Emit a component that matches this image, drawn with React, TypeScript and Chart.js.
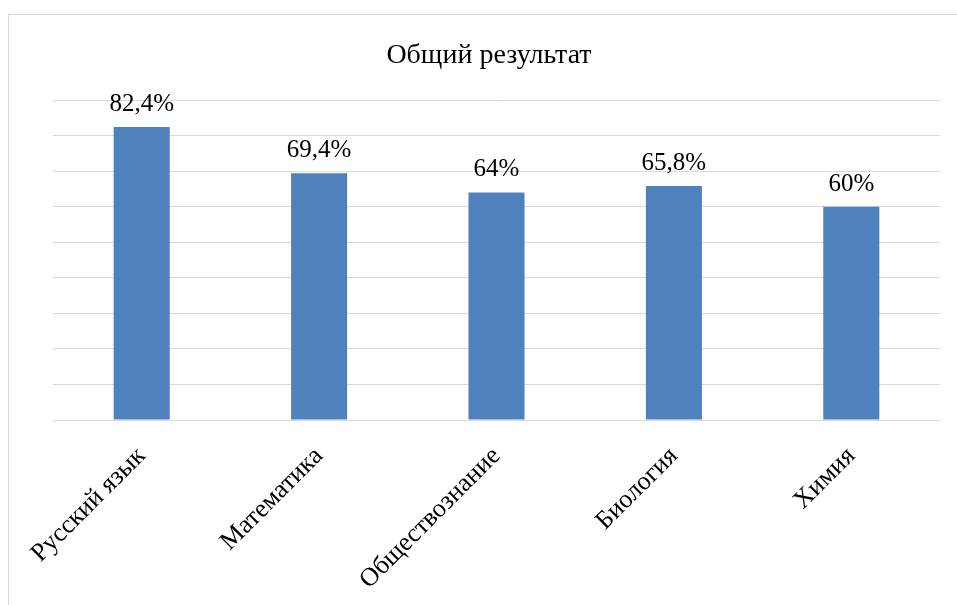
import React, { useEffect, useRef } from "react";
import { Chart, registerables } from "chart.js";

Chart.register(...registerables);

const categories = ["Русский язык", "Математика", "Обществознание", "Биология", "Химия"];
const values = [82.4, 69.4, 64, 65.8, 60];
const valueLabels = ["82,4%", "69,4%", "64%", "65,8%", "60%"];
const titleText = "Общий результат";

const FONT = "'Liberation Serif', 'Times New Roman', serif";

const dataLabelPlugin = {
  id: "dataLabels",
  afterDatasetsDraw(chart: any) {
    const ctx = chart.ctx;
    const meta = chart.getDatasetMeta(0);
    ctx.save();
    ctx.font = `25px ${FONT}`;
    ctx.fillStyle = "#000000";
    ctx.textAlign = "center";
    ctx.textBaseline = "alphabetic";
    meta.data.forEach((bar: any, i: number) => {
      ctx.fillText(valueLabels[i], bar.x, bar.y - 16);
    });
    ctx.restore();
  },
};

const titlePlugin = {
  id: "customTitle",
  afterDraw(chart: any) {
    const ctx = chart.ctx;
    ctx.save();
    ctx.font = `28px ${FONT}`;
    ctx.fillStyle = "#000000";
    ctx.textAlign = "center";
    ctx.textBaseline = "alphabetic";
    ctx.fillText(titleText, chart.width / 2 + 6, 48);
    ctx.restore();
  },
};

export default function App() {
  const ref = useRef<HTMLCanvasElement | null>(null);
  useEffect(() => {
    if (!ref.current) return;
    const chart = new Chart(ref.current, {
      type: "bar",
      data: {
        labels: categories,
        datasets: [
          {
            data: values,
            backgroundColor: "#4f81bd",
            barPercentage: 0.316,
            categoryPercentage: 1,
          },
        ],
      },
      options: {
        responsive: false,
        animation: false,
        layout: { padding: { left: 44, right: 17, top: 85, bottom: 0 } },
        plugins: {
          legend: { display: false },
          tooltip: { enabled: false },
          title: { display: false },
        },
        scales: {
          x: {
            grid: { display: false, drawTicks: false },
            border: { display: false },
            ticks: {
              color: "#000000",
              font: { family: FONT, size: 26 },
              minRotation: 45,
              maxRotation: 45,
              padding: 21,
              autoSkip: false,
            },
            afterFit: (scale: any) => {
              scale.height = 185;
            },
          },
          y: {
            min: 0,
            max: 90,
            ticks: { display: false, stepSize: 10 },
            grid: { color: "#d9d9d9", lineWidth: 1, drawTicks: false },
            border: { display: false },
            afterFit: (scale: any) => {
              scale.width = 0;
            },
          },
        },
      },
      plugins: [dataLabelPlugin, titlePlugin],
    });
    return () => chart.destroy();
  }, []);

  return (
    <div
      style={{
        position: "fixed",
        left: 8,
        top: 14,
        width: 949,
        height: 591,
        borderLeft: "1px solid #d9d9d9",
        borderTop: "1px solid #d9d9d9",
        background: "#ffffff",
        boxSizing: "border-box",
      }}
    >
      <canvas ref={ref} width={948} height={590} style={{ display: "block" }} />
    </div>
  );
}
